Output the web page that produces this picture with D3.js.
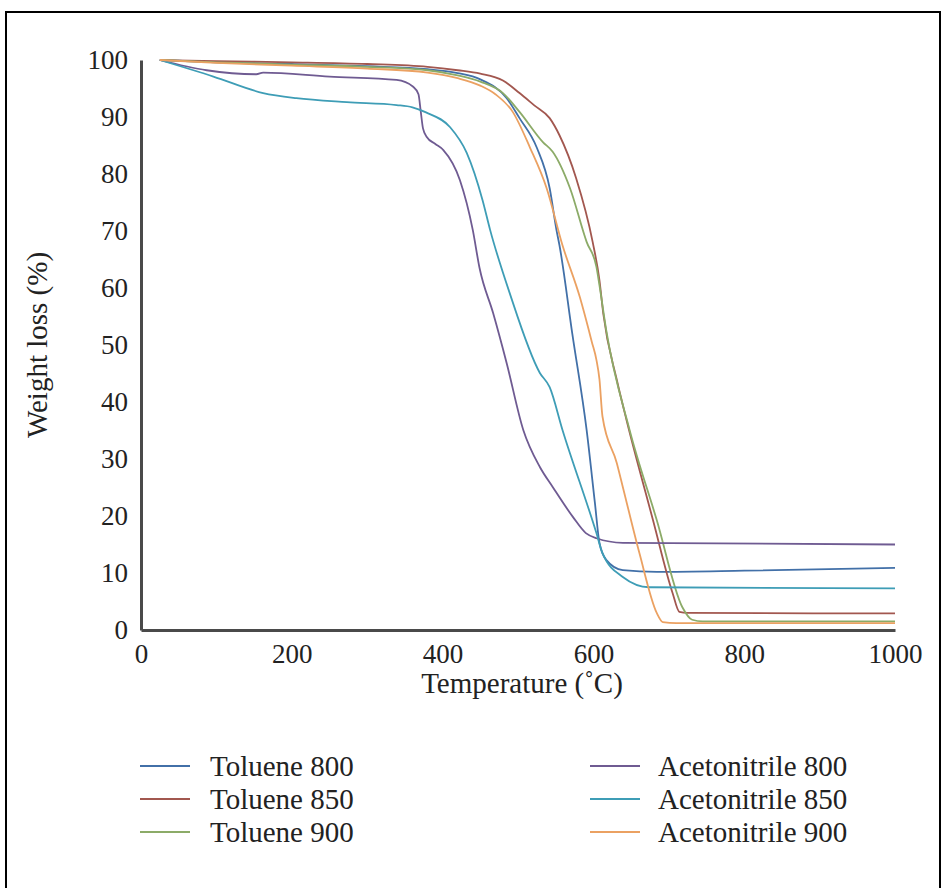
<!DOCTYPE html>
<html>
<head>
<meta charset="utf-8">
<script src="https://cdn.jsdelivr.net/npm/d3@7"></script>
<style>
  body { margin: 0; background: #fff; }
  svg { display: block; }
  svg text { font-family: "Liberation Serif", "DejaVu Serif", "Times New Roman", serif !important; fill: #222; }
</style>
</head>
<body>
<svg id="chart" width="944" height="888"></svg>
<script>
// ---- data ----
const seriesNames = ["Toluene 800", "Toluene 850", "Toluene 900", "Acetonitrile 800", "Acetonitrile 850", "Acetonitrile 900"];
const seriesColors = ["#4270a8", "#a2574f", "#8cab68", "#6f5b92", "#3e9db6", "#eba162"];

const toluene800 = [[25,100],[100,99.6],[200,99.3],[300,98.9],[380,98.4],[420,97.7],[450,96.6],[485,93.3],[502,89.8],[525,84.6],[542,77.5],[551,70.2],[555,67.5],[572,52],[591,35.1],[602,22.3],[608,15.3],[617,12.3],[639,10.5],[684,10.2],[800,10.4],[1000,10.9]];
const toluene850 = [[25,100],[100,99.8],[200,99.6],[300,99.3],[380,98.8],[420,98.2],[450,97.6],[480,96.4],[502,94.2],[522,92.0],[542,89.8],[555,86.8],[577,79.3],[599,68.1],[608,61.4],[613,55.6],[631,43.9],[644,36.8],[679,19.3],[705,6.5],[714,3.2],[725,3.0],[1000,2.9]];
const toluene900 = [[25,100],[100,99.6],[200,99.2],[300,98.8],[380,98.2],[420,97.3],[450,96.2],[480,94.2],[502,90.9],[533,85.6],[546,83.9],[569,77.5],[591,68.1],[604,63.7],[608,60.5],[617,52.6],[648,35.1],[684,19.3],[718,4.0],[731,1.8],[745,1.5],[1000,1.5]];
const acetonitrile800 = [[25,100],[87,98.2],[153,97.5],[162,97.8],[250,97.1],[339,96.5],[361,95.3],[368,94.0],[371,91.0],[374,88.0],[379,86.5],[390,85.3],[401,84.2],[423,78.9],[440,70.2],[449,63.5],[467,55.6],[485,46.8],[507,35.1],[529,28.6],[546,25.1],[573,19.8],[590,17.0],[604,16.1],[639,15.3],[1000,15.0]];
const acetonitrile850 = [[25,100],[96,97.1],[162,94.2],[206,93.3],[273,92.6],[339,92.1],[360,91.7],[378,90.8],[410,88.2],[432,83.7],[453,75.4],[463,70.2],[489,59.1],[529,45.1],[542,42.6],[559,35.1],[604,17.0],[612,13.5],[639,9.3],[674,7.5],[1000,7.3]];
const acetonitrile900 = [[25,100],[100,99.5],[200,99.0],[300,98.5],[380,97.8],[420,96.8],[450,95.5],[470,94.0],[493,90.9],[516,84.6],[538,77.5],[559,67.5],[582,58.4],[598,50.5],[604,47.4],[608,44.0],[612,37.5],[631,29.3],[639,25.1],[661,13.5],[684,3.0],[692,1.4],[710,1.2],[1000,1.2]];
const seriesData = [toluene800, toluene850, toluene900, acetonitrile800, acetonitrile850, acetonitrile900];

const xTicks = [0, 200, 400, 600, 800, 1000];
const yTicks = [0, 10, 20, 30, 40, 50, 60, 70, 80, 90, 100];
const xTitle = "Temperature (˚C)";
const yTitle = "Weight loss (%)";

// ---- chart ----
const svg = d3.select("#chart");

svg.append("rect")
  .attr("x", 6).attr("y", 12).attr("width", 934).attr("height", 900)
  .attr("fill", "none").attr("stroke", "#000").attr("stroke-width", 2);

const x = d3.scaleLinear().domain([0, 1000]).range([141, 895]);
const y = d3.scaleLinear().domain([0, 100]).range([630, 60]);

const tickFont = 27;

// x axis
const xAxis = svg.append("g").attr("transform", `translate(0,${y(0)})`)
  .call(d3.axisBottom(x).tickValues(xTicks).tickSize(0).tickPadding(14).tickFormat(d3.format("d")));
xAxis.select(".domain").attr("stroke", "#4a4a4a").attr("stroke-width", 3);
xAxis.selectAll("text").style("font-size", tickFont + "px").attr("fill", "#222");

// y axis
const yAxis = svg.append("g").attr("transform", `translate(${x(0)},0)`)
  .call(d3.axisLeft(y).tickValues(yTicks).tickSize(0).tickPadding(13).tickFormat(d3.format("d")));
yAxis.select(".domain").attr("stroke", "#4a4a4a").attr("stroke-width", 3);
yAxis.selectAll("text").style("font-size", tickFont + "px").attr("fill", "#222");

// titles
svg.append("text").attr("x", 522).attr("y", 693).attr("text-anchor", "middle")
  .style("font-size", "29px").text(xTitle);
svg.append("text").attr("transform", "translate(47,345) rotate(-90)").attr("text-anchor", "middle")
  .style("font-size", "29px").text(yTitle);

// lines
const line = d3.line().x(d => x(d[0])).y(d => y(d[1])).curve(d3.curveMonotoneX);
svg.append("g").selectAll("path").data(seriesData).join("path")
  .attr("d", line)
  .attr("fill", "none")
  .attr("stroke", (d, i) => seriesColors[i])
  .attr("stroke-width", 1.8)
  .attr("stroke-linejoin", "round");

// legend
const legendRows = [766, 799, 832];
const legendCols = [{lx: 140, tx: 210}, {lx: 590, tx: 658}];
const leg = svg.append("g");
seriesNames.forEach((name, i) => {
  const col = legendCols[Math.floor(i / 3)];
  const ry = legendRows[i % 3];
  leg.append("line").attr("x1", col.lx).attr("x2", col.lx + 50)
    .attr("y1", ry).attr("y2", ry)
    .attr("stroke", seriesColors[i]).attr("stroke-width", 2);
  leg.append("text").attr("x", col.tx).attr("y", ry).attr("dy", "0.35em")
    .style("font-size", "29px").text(name);
});
</script>
</body>
</html>
